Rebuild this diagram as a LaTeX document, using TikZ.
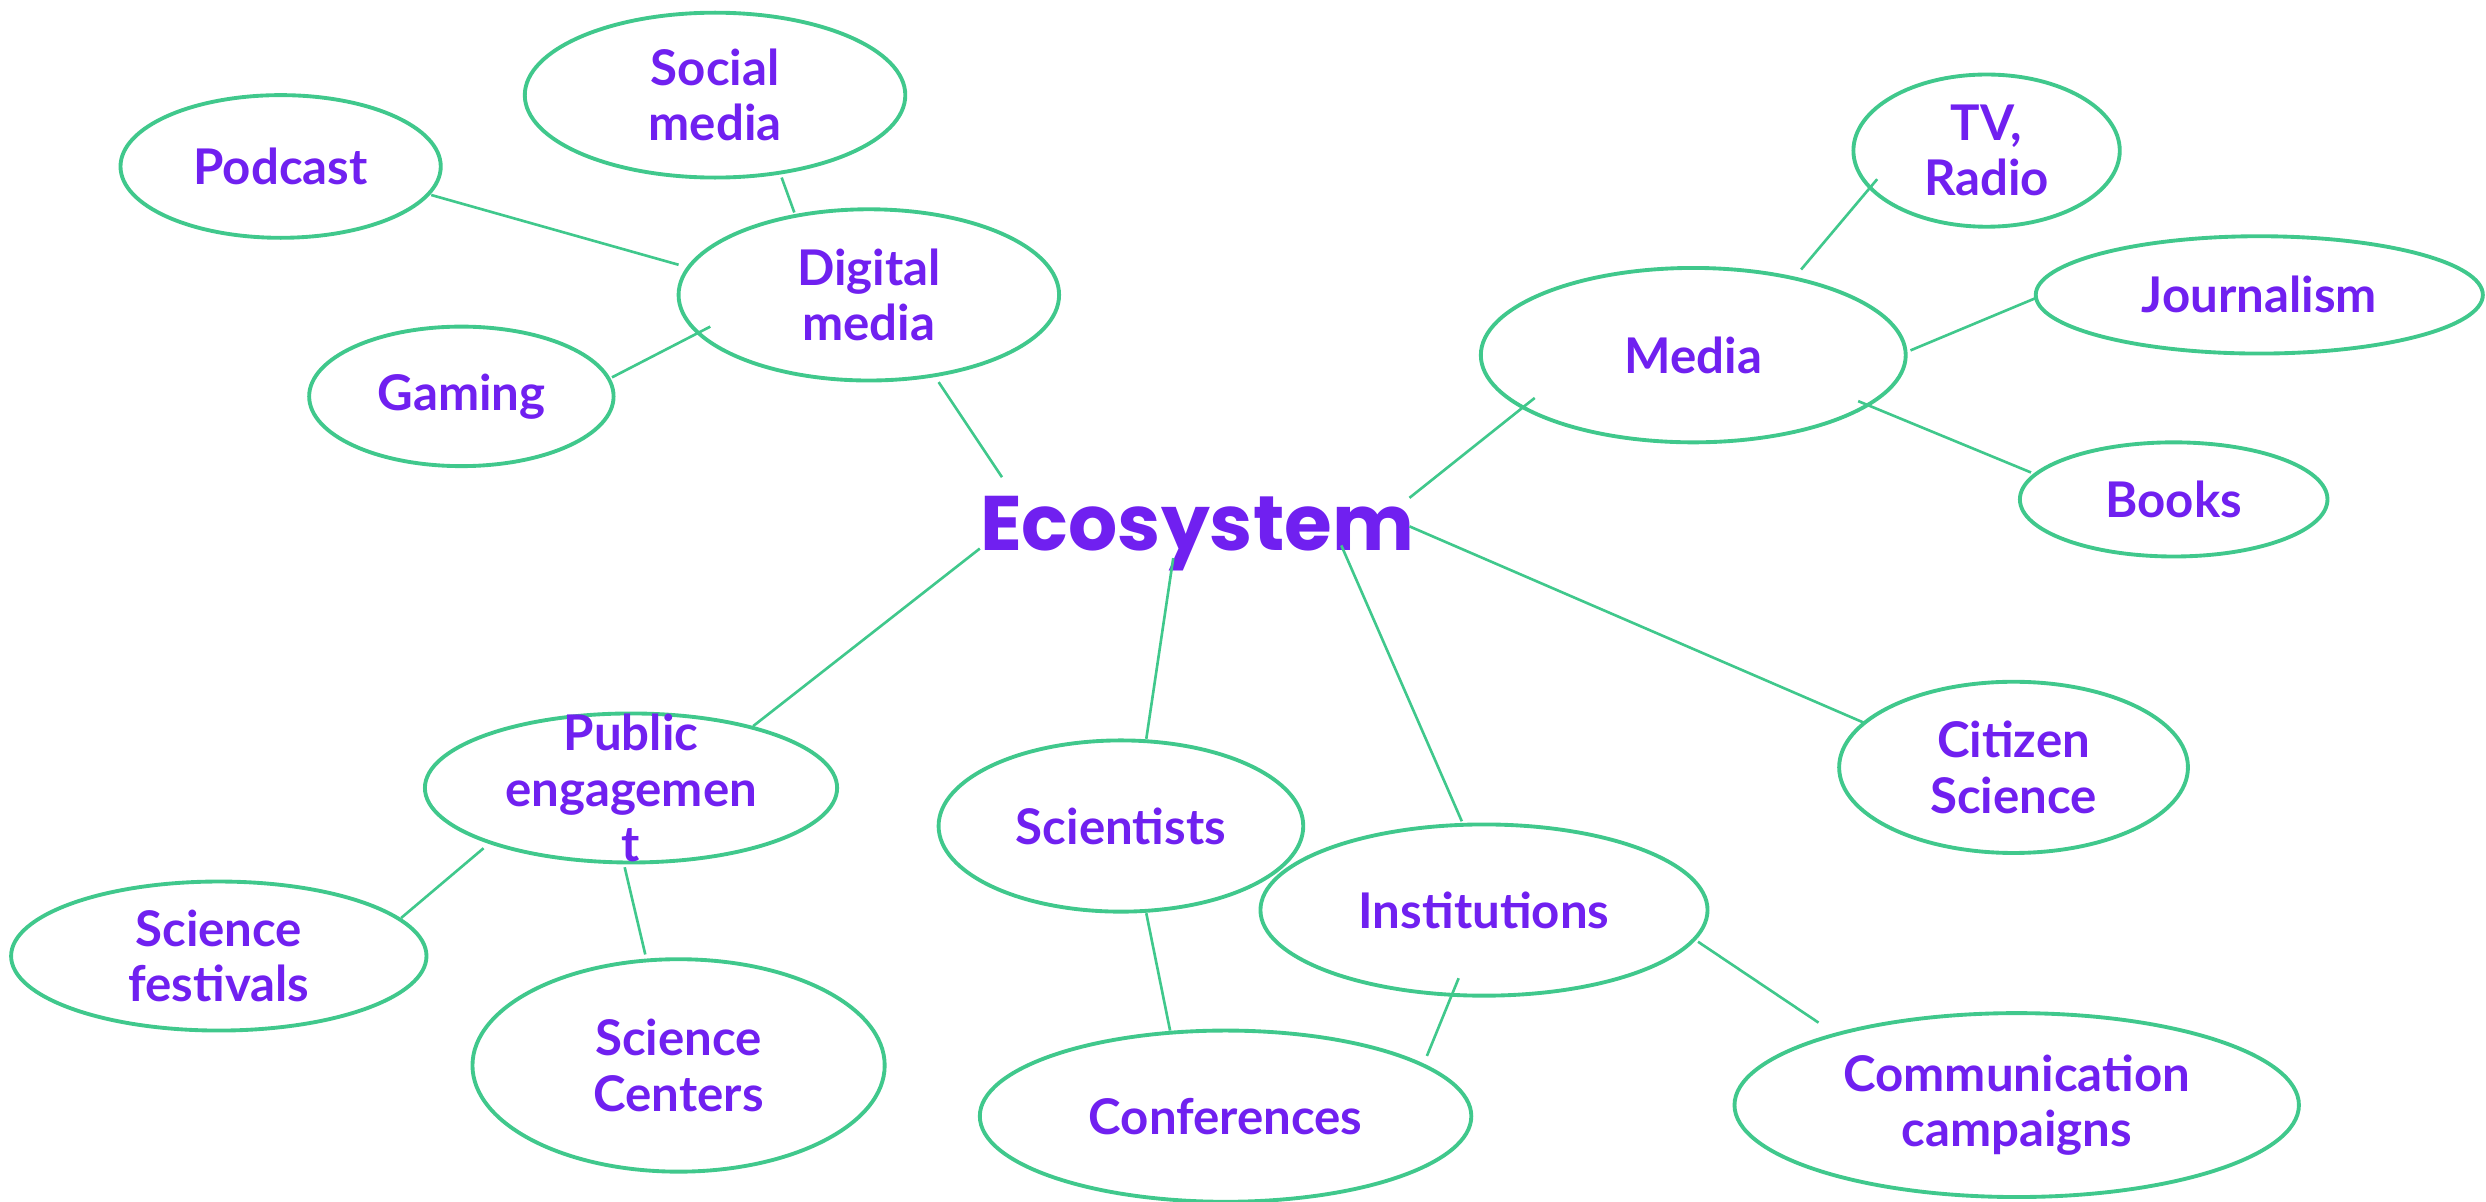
\documentclass[tikz,border=0pt]{standalone}
\usepackage{fontspec}
\usepackage{tikz}
\usetikzlibrary{shapes.geometric}
\newfontfamily\labelfont{Lato}
\newfontfamily\ecofont{Poppins}
\definecolor{ecopurple}{RGB}{112,32,240}
\definecolor{ecogreen}{RGB}{64,200,140}

\begin{document}
\begin{tikzpicture}[x=0.015855cm, y=-0.015855cm,
    bubble/.style 2 args={ellipse, draw=ecogreen, line width=1.1pt, inner sep=0pt,
        minimum width=#1*0.03171cm, minimum height=#2*0.03171cm},
    every label/.style={font=\labelfont\bfseries\fontsize{14}{15.8}\selectfont,
        text=ecopurple, align=center},
    link/.style={draw=ecogreen, line width=0.75pt}]
        \useasboundingbox (0,0) rectangle (1568,758);
        % Centre
        \node[font=\ecofont\bfseries\fontsize{22}{26}\selectfont, text=ecopurple, anchor=base,
            inner sep=0pt] (eco) at (755,347) {Ecosystem};
        % Digital media branch
        \node[bubble={120}{52}, label=center:{Social\\media}] (social) at (451,60) {};
        \node[bubble={101}{45}, label=center:Podcast] (podcast) at (177,105) {};
        \node[bubble={120}{54}, label=center:{Digital\\media}] (digital) at (548,186) {};
        \node[bubble={96}{44}, label=center:Gaming] (gaming) at (291,250) {};
        % Media branch
        \node[bubble={84}{48}, label=center:{TV,\\Radio}] (tv) at (1253,95) {};
        \node[bubble={134}{55}, label=center:Media] (media) at (1068,224) {};
        \node[bubble={141}{37}, label=center:Journalism] (journalism) at (1425,186) {};
        \node[bubble={97}{36}, label=center:Books] (books) at (1371,315) {};
        % Lower nodes
        \node[bubble={110}{54}, label=center:{Citizen\\Science}] (citizen) at (1270,484) {};
        \node[bubble={130}{47}, label=center:{Public\\engagemen\\t}] (public) at (398,497) {};
        \node[bubble={115}{54}, label=center:Scientists] (scientists) at (707,521) {};
        \node[bubble={141}{54}, label=center:Institutions] (institutions) at (936,574) {};
        \node[bubble={131}{47}, label=center:{Science\\festivals}] (festivals) at (138,603) {};
        \node[bubble={130}{67}, label=center:{Science\\Centers}] (centers) at (428,672) {};
        \node[bubble={155}{54}, label=center:Conferences] (conferences) at (773,704) {};
        \node[bubble={178}{58}, label=center:{Communication\\campaigns}] (campaigns) at (1272,697) {};
        % Line ends
        \coordinate (social-s) at (493,112);   \coordinate (digital-n) at (501,134);
        \coordinate (podcast-e) at (272,123);  \coordinate (digital-w) at (428,167);
        \coordinate (gaming-e) at (386,238);   \coordinate (digital-sw) at (448,206);
        \coordinate (digital-se) at (592,241); \coordinate (eco-nw) at (632,301);
        \coordinate (tv-sw) at (1184,113);     \coordinate (media-n) at (1136,170);
        \coordinate (journ-w) at (1284,188);   \coordinate (media-e) at (1205,221);
        \coordinate (media-se) at (1172,253);  \coordinate (books-w) at (1281,298);
        \coordinate (media-sw) at (968,251);   \coordinate (eco-ne) at (889,314);
        \coordinate (eco-e) at (889,332);      \coordinate (citizen-nw) at (1176,456);
        \coordinate (eco-se) at (846,344);     \coordinate (inst-n) at (922,518);
        \coordinate (eco-s) at (740,352);      \coordinate (sci-n) at (723,466);
        \coordinate (eco-sw) at (618,346);     \coordinate (public-ne) at (475,458);
        \coordinate (public-sw) at (305,535);  \coordinate (fest-ne) at (253,579);
        \coordinate (public-s) at (394,547);   \coordinate (centers-n) at (407,602);
        \coordinate (sci-s) at (723,576);      \coordinate (conf-n) at (738,650);
        \coordinate (inst-s) at (920,617);     \coordinate (conf-ne) at (900,666);
        \coordinate (inst-se) at (1071,594);   \coordinate (camp-nw) at (1147,645);
        % Connectors
        \draw[link] (social-s) -- (digital-n);
        \draw[link] (podcast-e) -- (digital-w);
        \draw[link] (gaming-e) -- (digital-sw);
        \draw[link] (digital-se) -- (eco-nw);
        \draw[link] (tv-sw) -- (media-n);
        \draw[link] (journ-w) -- (media-e);
        \draw[link] (media-se) -- (books-w);
        \draw[link] (media-sw) -- (eco-ne);
        \draw[link] (eco-e) -- (citizen-nw);
        \draw[link] (eco-se) -- (inst-n);
        \draw[link] (eco-s) -- (sci-n);
        \draw[link] (eco-sw) -- (public-ne);
        \draw[link] (public-sw) -- (fest-ne);
        \draw[link] (public-s) -- (centers-n);
        \draw[link] (sci-s) -- (conf-n);
        \draw[link] (inst-s) -- (conf-ne);
        \draw[link] (inst-se) -- (camp-nw);
\end{tikzpicture}
\end{document}
